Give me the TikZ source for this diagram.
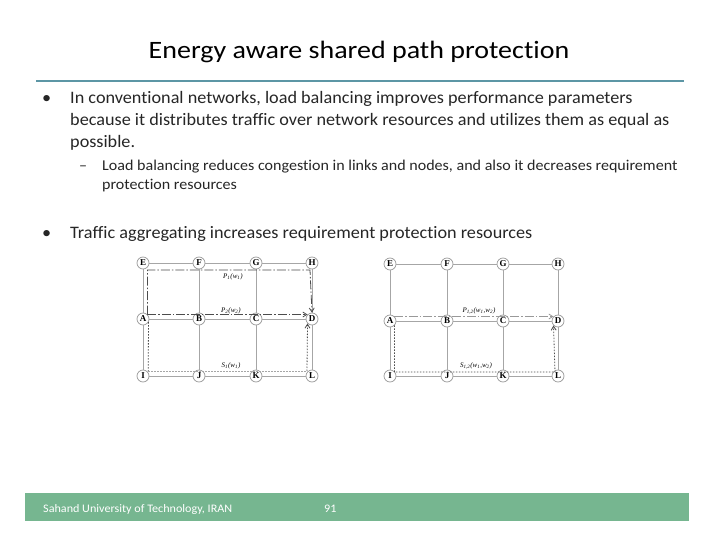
\documentclass[tikz,border=0pt]{standalone}
\usepackage{fontspec}
\setmainfont{Carlito}[Ligatures=NoCommon]
\newfontfamily\serifn{Liberation Serif}
\usetikzlibrary{arrows.meta}
\definecolor{rulec}{RGB}{92,150,165}
\definecolor{footc}{RGB}{118,182,144}
\tikzset{
  x=1pt,y=-1pt,
  body/.style={anchor=base west,inner sep=0pt,font=\fontsize{17.5}{17.5}\selectfont\addfontfeature{FakeStretch=1.04},text=black!85},
  sub/.style={anchor=base west,inner sep=0pt,font=\fontsize{15}{15}\selectfont\addfontfeature{FakeStretch=1.07},text=black!85},
  nd/.style={circle,draw=black!40,line width=.7pt,fill=white,minimum size=12pt,inner sep=0pt,font=\serifn\bfseries\fontsize{9}{9}\selectfont},
  lnk/.style={draw=black!35,line width=1pt},
  pth/.style={draw=black!70,line width=.8pt,dash pattern=on 9pt off 2pt on 1.5pt off 2pt},
  bak/.style={draw=black!70,line width=.8pt,dash pattern=on 1.5pt off 1.5pt},
  lab/.style={font=\serifn\itshape\fontsize{7}{7}\selectfont,inner sep=0pt},
  tip/.style={-{Straight Barb[length=4pt,width=5pt]}},
  foot/.style={anchor=base west,inner sep=0pt,text=white,font=\fontsize{11.5}{11.5}\selectfont\addfontfeature{FakeStretch=1.055}}
}
\begin{document}
\begin{tikzpicture}
\useasboundingbox (0,0) rectangle (720,540);
\fill[white] (0,0) rectangle (720,540);
\node[anchor=base,inner sep=0pt,font=\fontsize{25}{25}\selectfont\addfontfeature{FakeStretch=1.12}] (title) at (359,59) {Energy aware shared path protection};
\coordinate (ruleL) at (36,81);\coordinate (ruleR) at (684,81);
\draw[rulec,line width=2.4pt] (ruleL) -- (ruleR);
\node[body] (b1) at (42,104) {•};
\node[body] (t1) at (70,104) {In conventional networks, load balancing improves performance parameters};
\node[body] (t2) at (70,126) {because it distributes traffic over network resources and utilizes them as equal as};
\node[body] (t3) at (70,148) {possible.};
\node[sub] (d1) at (79,171) {–};
\node[sub] (t4) at (102,171) {Load balancing reduces congestion in links and nodes, and also it decreases requirement};
\node[sub] (t5) at (102,190) {protection resources};
\node[body] (b2) at (42,239) {•};
\node[body] (t6) at (70,239) {Traffic aggregating increases requirement protection resources};
% left grid
\foreach \n/\x/\y in {E/143/263,F/199/263,G/256/263,H/312/263,A/143/319,B/199/319,C/256/319,D/312/319,I/143/376,J/199/376,K/256/376,L/312/376}
  \node[nd] (l\n) at (\x,\y) {\n};
\foreach \a/\b in {E/F,F/G,G/H,A/B,B/C,C/D,I/J,J/K,K/L,E/A,A/I,F/B,B/J,G/C,C/K,H/D,D/L}
  \draw[lnk] (l\a) -- (l\b);
\coordinate (p1c) at (310,270);
\draw[pth,tip] (lA.north east) |- (p1c) -- (lD.north);
\draw[pth,tip] (lA.north east) -- (lD.north west);
\coordinate (s1b) at (148.2,371);\coordinate (s1c) at (307,371);
\draw[bak] (lA.-30) -- (s1b);
\draw[bak,draw=black!35] (s1b) -- (s1c);
\draw[bak,tip] (s1c) -- (lD.south west);
\node[lab] (lp1) at (233,277) {P\textsubscript{1}(w\textsubscript{1})};
\node[lab] (lp2) at (231,311) {P\textsubscript{2}(w\textsubscript{2})};
\node[lab] (ls1) at (231,366) {S\textsubscript{1}(w\textsubscript{1})};
% right grid
\foreach \n/\x/\y in {E/390/264,F/447/264,G/503/264,H/558/264,A/390/321,B/447/321,C/503/321,D/558/321,I/390/376,J/447/376,K/503/376,L/558/376}
  \node[nd] (r\n) at (\x,\y) {\n};
\foreach \a/\b in {E/F,F/G,G/H,A/B,B/C,C/D,I/J,J/K,K/L,E/A,A/I,F/B,B/J,G/C,C/K,H/D,D/L}
  \draw[lnk] (r\a) -- (r\b);
\draw[pth,draw=black!40,tip] (rA.north east) -- (rD.north west);
\coordinate (s2c) at (555,372);
\draw[bak,tip] (rA.south east) |- (s2c) -- (rD.south west);
\node[lab] (rp) at (479,311) {P\textsubscript{1,2}(w\textsubscript{1},w\textsubscript{2})};
\node[lab] (rs) at (476,366) {S\textsubscript{1,2}(w\textsubscript{1},w\textsubscript{2})};
% footer
\fill[footc] (25,493) rectangle (689,521);
\node[foot] (ft) at (43,512) {Sahand University of Technology, IRAN};
\node[foot] (pg) at (324,512) {91};
\end{tikzpicture}
\end{document}
